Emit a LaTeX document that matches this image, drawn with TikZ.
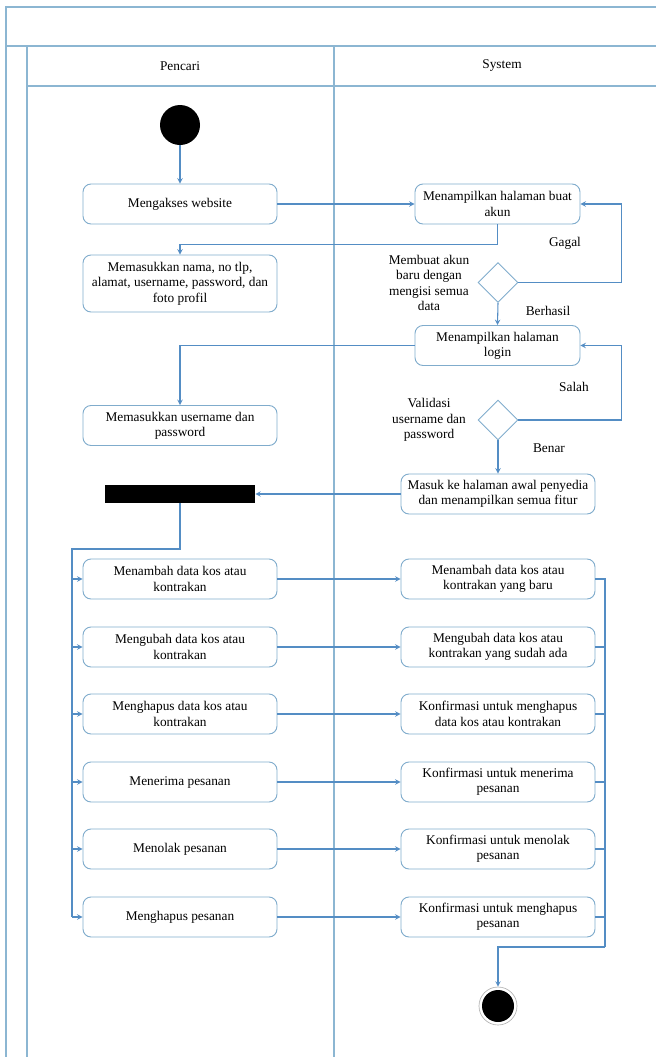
\documentclass[tikz,border=0pt]{standalone}
\usepackage{fontspec}
\setmainfont{Liberation Serif}
\usepackage{tikz}
\usetikzlibrary{shapes.geometric}
\definecolor{lanecol}{RGB}{140,182,210}
\definecolor{boxcol}{RGB}{128,172,204}
\definecolor{linkcol}{RGB}{84,141,196}
\tikzset{
  lane/.style={draw=lanecol, line width=0.9pt},
  act/.style={draw=boxcol, rounded corners=6pt, line width=0.7pt, align=center,
    minimum width=145.5pt, minimum height=30pt, inner sep=1pt,
    font=\fontsize{10}{11.5}\selectfont},
  guard/.style={align=center, inner sep=0pt, font=\fontsize{10}{11.5}\selectfont},
  choice/.style={diamond, draw=boxcol, line width=0.7pt, inner sep=0pt,
    minimum width=30pt, minimum height=30pt},
  startnode/.style={circle, fill=black, inner sep=0pt, minimum size=30pt},
  endnode/.style={circle, draw=gray!60, line width=0.5pt, fill=white, inner sep=0pt,
    minimum size=28.5pt,
    path picture={\fill[black] (path picture bounding box.center) circle (12pt);}},
  forkbar/.style={rectangle, fill=black, inner sep=0pt, minimum width=112.5pt,
    minimum height=13.5pt},
  flow/.style={draw=linkcol, line width=0.8pt, ->, >=stealth},
  link/.style={draw=linkcol, line width=0.8pt}
}
\begin{document}
\begin{tikzpicture}[x=0.75pt,y=-0.75pt]
\useasboundingbox (0,0) rectangle (656,1057);

% swimlanes
\draw[lane] (6,1057) -- (6,7) -- (656,7);
\draw[lane] (6,46) -- (656,46);
\draw[lane] (27,1057) -- (27,46);
\draw[lane] (27,86) -- (656,86);
\draw[lane] (334,46) -- (334,1057);
\node[guard] (pencari) at (180,66) {Pencari};
\node[guard] (system) at (502,66) {System};

% registration and login
\node[startnode] (start) at (180,125) {};
\node[act] (web) at (180,204) {Mengakses website};
\node[act, minimum width=123.75pt] (buat) at (497.5,204) {Menampilkan halaman buat\\akun};
\node[act, minimum height=42.75pt] (nama) at (180,283.5) {Memasukkan nama, no tlp,\\alamat, username, password, dan\\foto profil};
\node[choice] (d1) at (498,282.5) {};
\node[act, minimum width=123.75pt] (login) at (497.5,345.5) {Menampilkan halaman\\login};
\node[act] (user) at (180,425.5) {Memasukkan username dan\\password};
\node[choice] (d2) at (498,420) {};
\node[act] (masuk) at (498,494) {Masuk ke halaman awal penyedia\\dan menampilkan semua fitur};
\node[forkbar] (fork) at (180,494) {};

\node[guard] (lblbuat) at (429,283) {Membuat akun\\baru dengan\\mengisi semua\\data};
\node[guard] (lblgagal) at (565,243) {Gagal};
\node[guard] (lblberhasil) at (548,311) {Berhasil};
\node[guard] (lblvalid) at (429,420) {Validasi\\username dan\\password};
\node[guard] (lblsalah) at (574,387) {Salah};
\node[guard] (lblbenar) at (549,448) {Benar};

% features
\node[act] (l1) at (180,579) {Menambah data kos atau\\kontrakan};
\node[act] (r1) at (498,579) {Menambah data kos atau\\kontrakan yang baru};
\node[act] (l2) at (180,647) {Mengubah data kos atau\\kontrakan};
\node[act] (r2) at (498,647) {Mengubah data kos atau\\kontrakan yang sudah ada};
\node[act] (l3) at (180,714) {Menghapus data kos atau\\kontrakan};
\node[act] (r3) at (498,714) {Konfirmasi untuk menghapus\\data kos atau kontrakan};
\node[act] (l4) at (180,782) {Menerima pesanan};
\node[act] (r4) at (498,782) {Konfirmasi untuk menerima\\pesanan};
\node[act] (l5) at (180,849) {Menolak pesanan};
\node[act] (r5) at (498,849) {Konfirmasi untuk menolak\\pesanan};
\node[act] (l6) at (180,917) {Menghapus pesanan};
\node[act] (r6) at (498,917) {Konfirmasi untuk menghapus\\pesanan};
\node[endnode] (stop) at (498,1006) {};

% flows
\draw[flow] (start) -- (web);
\draw[flow] (web) -- (buat);
\draw[flow] (buat.south) -- ++(0,20) -| (nama.north);
\draw[flow] (d1.east) -- ++(103,0) |- (buat.east);
\draw[flow] (d1.south) -- (login.north);
\draw[flow] (login.west) -| (user.north);
\draw[flow] (d2.east) -- ++(103,0) |- (login.east);
\draw[flow] (d2.south) -- (masuk.north);
\draw[flow] (masuk.west) -- (fork.east);

\coordinate (rail) at (72,549);
\draw[link] (fork.south) |- (rail) -- (rail |- l6.west);
\foreach \i in {1,...,6} {
  \draw[flow] (rail |- l\i.west) -- (l\i.west);
  \draw[flow] (l\i.east) -- (r\i.west);
}
\coordinate (merge) at (605,947);
\draw[link] (r1.east) -| (merge);
\foreach \i in {2,...,6}
  \draw[link] (r\i.east) -- (merge |- r\i.east);
\draw[flow] (merge) -| (stop.north);
\end{tikzpicture}
\end{document}
